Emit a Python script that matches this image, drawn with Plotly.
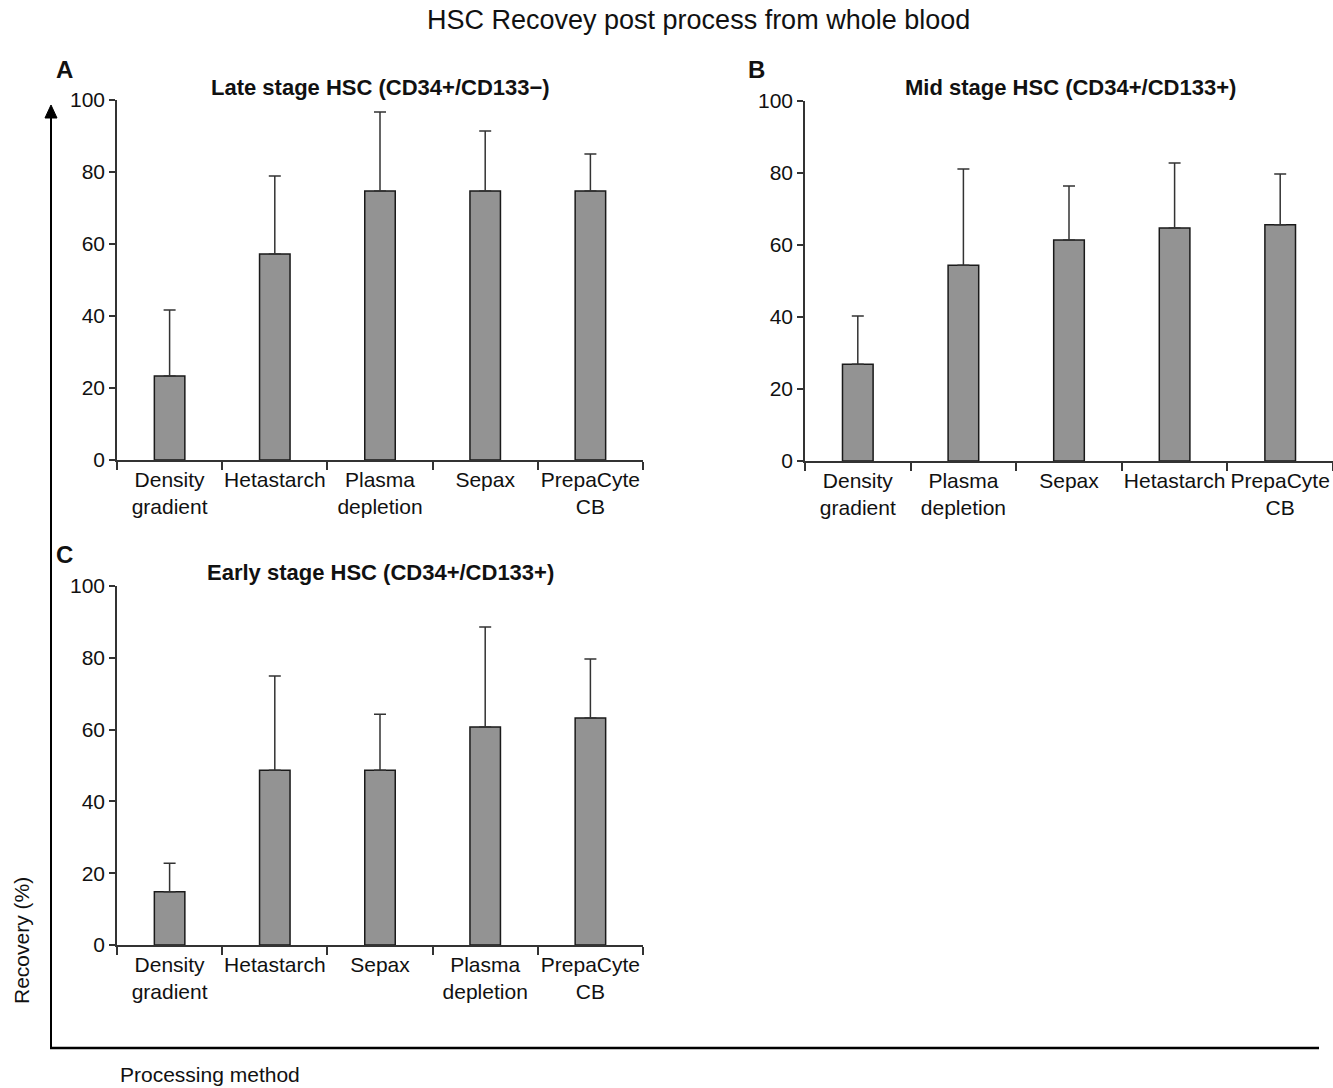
import plotly.graph_objects as go

# ---------------- data ----------------
cats_a = ["Density<br>gradient", "Hetastarch", "Plasma<br>depletion", "Sepax", "PrepaCyte<br>CB"]
mean_a = [23.3, 57.2, 74.7, 74.7, 74.7]
sd_a = [18.4, 21.7, 22.0, 16.7, 10.3]

cats_b = ["Density<br>gradient", "Plasma<br>depletion", "Sepax", "Hetastarch", "PrepaCyte<br>CB"]
mean_b = [26.9, 54.4, 61.4, 64.7, 65.6]
sd_b = [13.4, 26.7, 15.0, 18.1, 14.1]

cats_c = ["Density<br>gradient", "Hetastarch", "Sepax", "Plasma<br>depletion", "PrepaCyte<br>CB"]
mean_c = [14.8, 48.7, 48.7, 60.7, 63.2]
sd_c = [8.0, 26.2, 15.6, 27.9, 16.5]

y_ticks = [0, 20, 40, 60, 80, 100]

title_main = "HSC Recovey post process from whole blood"
sub_a = "Late stage HSC (CD34+/CD133\u2212)"
sub_b = "Mid stage HSC (CD34+/CD133+)"
sub_c = "Early stage HSC (CD34+/CD133+)"

# ---------------- layout helpers ----------------
W, H = 1333, 1088
FONT = "Liberation Sans, Arial, sans-serif"
BOLD_NARROW = "Liberation Sans Narrow, Liberation Sans, Arial Narrow, sans-serif"


def px(x):
    return x / W


def py(y):
    return 1 - y / H


fig = go.Figure()

panels = [
    ("x", "y", cats_a, mean_a, sd_a),
    ("x2", "y2", cats_b, mean_b, sd_b),
    ("x3", "y3", cats_c, mean_c, sd_c),
]
for xa, ya, cats, means, sds in panels:
    fig.add_trace(go.Bar(
        x=cats, y=means, xaxis=xa, yaxis=ya, width=0.29,
        marker=dict(color="#939393", line=dict(color="#1a1a1a", width=1.5)),
        error_y=dict(type="data", symmetric=False, array=sds,
                     arrayminus=[0] * len(sds), width=6, thickness=1.5,
                     color="#333333"),
        showlegend=False, hoverinfo="skip",
    ))

xcommon = dict(type="category", range=[-0.5, 4.5], tickson="boundaries",
               ticks="outside", ticklen=8, tickwidth=1.5, tickcolor="#333",
               showline=True, linecolor="#333", linewidth=1.5, tickangle=0,
               showgrid=False, zeroline=False, automargin=False,
               tickfont=dict(family=FONT, size=21, color="#111"), fixedrange=True)
ycommon = dict(range=[0, 100], tickvals=y_ticks, ticks="outside", ticklen=6,
               tickwidth=1.5, tickcolor="#333", showline=True, linecolor="#333",
               linewidth=1.5, showgrid=False, zeroline=False, automargin=False,
               tickfont=dict(family=FONT, size=21, color="#111"), fixedrange=True)

fig.update_layout(
    width=W, height=H,
    margin=dict(l=0, r=0, t=0, b=0),
    paper_bgcolor="white", plot_bgcolor="white",
    xaxis=dict(xcommon, domain=[px(117), px(643)], anchor="y"),
    yaxis=dict(ycommon, domain=[py(460), py(100)], anchor="x"),
    xaxis2=dict(xcommon, domain=[px(805), 1.0], anchor="y2"),
    yaxis2=dict(ycommon, domain=[py(461), py(101)], anchor="x2"),
    xaxis3=dict(xcommon, domain=[px(117), px(643)], anchor="y3"),
    yaxis3=dict(ycommon, domain=[py(945), py(586)], anchor="x3"),
)

ann = []
ann.append(dict(text=title_main, x=px(698), y=py(20), xref="paper", yref="paper",
                showarrow=False, xanchor="center", yanchor="middle",
                font=dict(family=FONT, size=27, color="#111")))
for letter, lx, ly in [("A", 64, 69), ("B", 756, 69), ("C", 64, 554)]:
    ann.append(dict(text="<b>%s</b>" % letter, x=px(lx), y=py(ly), xref="paper", yref="paper",
                    showarrow=False, xanchor="center", yanchor="middle",
                    font=dict(family=BOLD_NARROW, size=24, color="#111")))
for st, sx, sy in [(sub_a, 380, 87), (sub_b, 1070, 87), (sub_c, 380, 572)]:
    ann.append(dict(text="<b>%s</b>" % st, x=px(sx), y=py(sy), xref="paper", yref="paper",
                    showarrow=False, xanchor="center", yanchor="middle",
                    font=dict(family=FONT, size=22, color="#111")))
ann.append(dict(text="Recovery (%)", x=px(21), y=py(941), xref="paper", yref="paper",
                showarrow=False, xanchor="center", yanchor="middle", textangle=-90,
                font=dict(family=FONT, size=21, color="#111")))
ann.append(dict(text="Processing method", x=px(118), y=py(1074), xref="paper", yref="paper",
                showarrow=False, xanchor="left", yanchor="middle",
                font=dict(family=FONT, size=21, color="#111")))
fig.update_layout(annotations=ann)

# outer frame: vertical arrow axis and horizontal baseline
shapes = [
    dict(type="line", xref="paper", yref="paper", x0=px(51), x1=px(51),
         y0=py(1048), y1=py(115), line=dict(color="black", width=2)),
    dict(type="line", xref="paper", yref="paper", x0=px(50), x1=px(1319),
         y0=py(1048), y1=py(1048), line=dict(color="black", width=2.5)),
    dict(type="path", xref="paper", yref="paper",
         path="M %f,%f L %f,%f L %f,%f Z" % (px(45), py(118), px(57), py(118), px(51), py(105)),
         fillcolor="black", line=dict(color="black", width=1)),
]
fig.update_layout(shapes=shapes)

fig.write_html("out.html", config={"displayModeBar": False},
               post_script="document.body.style.margin='0';document.body.style.overflow='hidden';")
